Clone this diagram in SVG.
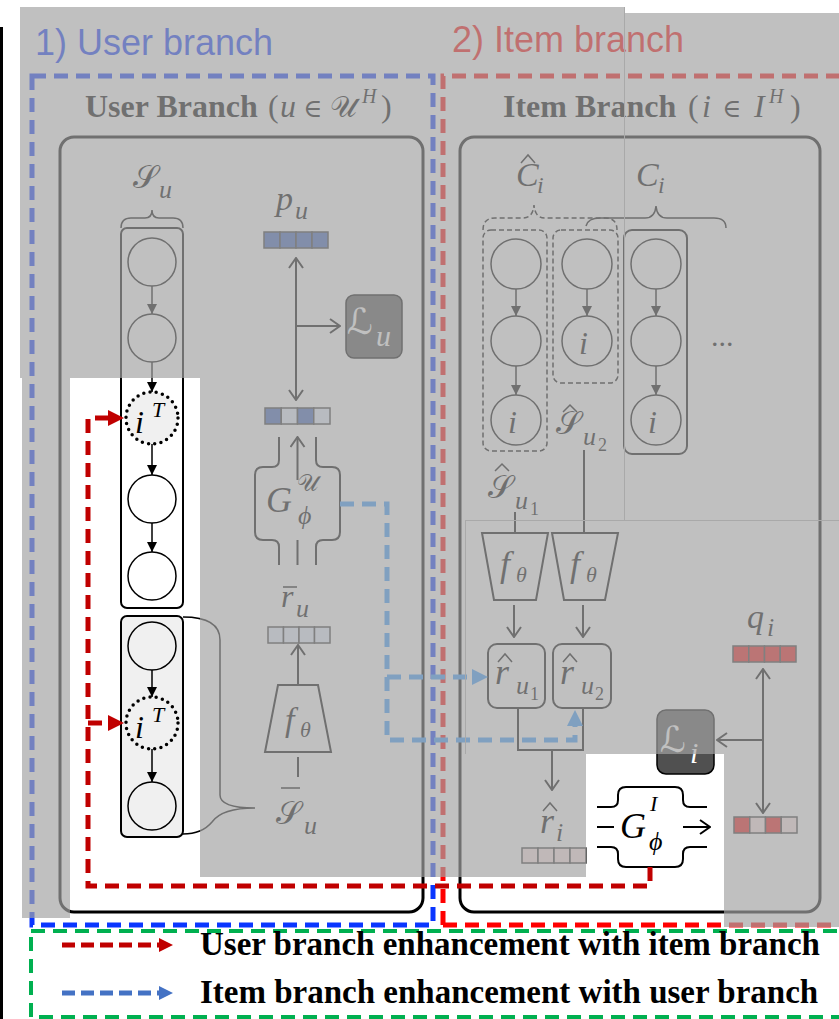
<svg xmlns="http://www.w3.org/2000/svg" width="839" height="1019" viewBox="0 0 839 1019">
<style>
.ln{stroke:#000;stroke-width:2;fill:none}
.th{stroke:#000;stroke-width:1.5;fill:none}
.m{font-family:"Liberation Serif","DejaVu Serif",serif;font-style:italic;fill:#000}
.s{font-family:"DejaVu Serif","DejaVu Sans","Noto Sans",serif;font-style:normal;fill:#000}
.n{font-family:"Liberation Serif",serif;fill:#000}
.cb{fill:#3960b9;stroke:#333;stroke-width:1.5}
.cl{fill:#e6eeff;stroke:#333;stroke-width:1.5}
.cr{fill:#f01010;stroke:#333;stroke-width:1.5}
.cp{fill:#ffe6e6;stroke:#333;stroke-width:1.5}
.circ{fill:#fff;stroke:#000;stroke-width:1.5}
.dot{fill:#f0f0f0;stroke:#000;stroke-width:3.5;stroke-dasharray:0 6.3;stroke-linecap:round}
.red{stroke:#c00000;stroke-width:5;fill:none;stroke-dasharray:14 8}
.blu{stroke:#3399ff;stroke-width:5;fill:none;stroke-dasharray:14 8}
</style>
<defs>
<marker id="tri" viewBox="0 0 10 10" refX="10" refY="5" markerWidth="11" markerHeight="10" markerUnits="userSpaceOnUse" orient="auto"><path d="M0,0 L10,5 L0,10 Z" fill="#000"/></marker>
<marker id="open" viewBox="0 0 12 16" refX="11" refY="8" markerWidth="12" markerHeight="16" markerUnits="userSpaceOnUse" orient="auto-start-reverse"><path d="M1,1 L11,8 L1,15" fill="none" stroke="#000" stroke-width="2"/></marker>
<marker id="rh" viewBox="0 0 16 16" refX="0" refY="8" markerWidth="16" markerHeight="16" markerUnits="userSpaceOnUse" orient="auto"><path d="M0,0 L16,8 L0,16 Z" fill="#c00000"/></marker>
<marker id="bh" viewBox="0 0 16 16" refX="0" refY="8" markerWidth="16" markerHeight="16" markerUnits="userSpaceOnUse" orient="auto"><path d="M0,0 L16,8 L0,16 Z" fill="#3399ff"/></marker>
<marker id="lbh" viewBox="0 0 16 16" refX="0" refY="8" markerWidth="14" markerHeight="16" markerUnits="userSpaceOnUse" orient="auto"><path d="M0,0 L16,8 L0,16 Z" fill="#4472c4"/></marker>
<marker id="lrh" viewBox="0 0 16 16" refX="0" refY="8" markerWidth="14" markerHeight="16" markerUnits="userSpaceOnUse" orient="auto"><path d="M0,0 L16,8 L0,16 Z" fill="#c00000"/></marker>
</defs>
<rect width="839" height="1019" fill="#fff"/>
<line x1="1.5" y1="27" x2="1.5" y2="1019" stroke="#000" stroke-width="3"/>

<g id="titles" font-family="'Liberation Sans',Arial,sans-serif" font-size="36">
<text x="35" y="55" fill="#0a36ff">1) User branch</text>
<text x="452" y="52" fill="#ff0000">2) Item branch</text>
</g>

<g id="frames">
<rect x="32" y="76" width="401" height="849" fill="none" stroke="#0a36ff" stroke-width="5" stroke-dasharray="14 8"/>
<path d="M443,925 V76 H845 M443,925 H845" fill="none" stroke="#ff0000" stroke-width="5" stroke-dasharray="14 8"/>
<rect x="31" y="931" width="815" height="86" fill="none" stroke="#00b050" stroke-width="4" stroke-dasharray="14 8"/>
</g>

<g id="user-branch">
<text y="117" font-family="'Liberation Serif',serif" font-size="32"><tspan x="85" font-weight="bold">User Branch</tspan><tspan x="268">(</tspan><tspan x="280" font-style="italic">u</tspan><tspan x="303" font-family="'DejaVu Serif',serif" font-size="26">∈</tspan><tspan x="330" font-family="'DejaVu Serif',serif" font-size="30">𝒰</tspan><tspan x="362" y="103" font-size="20" font-style="italic">H</tspan><tspan x="381" y="117">)</tspan></text>
<rect x="60" y="137" width="363" height="775" rx="14" fill="none" stroke="#000" stroke-width="3"/>
</g>

<g id="item-branch">
<text y="117" font-family="'Liberation Serif',serif" font-size="32"><tspan x="503" font-weight="bold">Item Branch</tspan><tspan x="688">(</tspan><tspan x="702" font-style="italic">i</tspan><tspan x="722" font-family="'DejaVu Serif',serif" font-size="26">∈</tspan><tspan x="754" font-style="italic">I</tspan><tspan x="769" y="103" font-size="20" font-style="italic">H</tspan><tspan x="790" y="117">)</tspan></text>
<rect x="460" y="137" width="360" height="775" rx="14" fill="none" stroke="#000" stroke-width="3"/>
</g>

<g id="user-seq">
<text class="s" x="133" y="188" font-size="32">𝒮</text><text class="m" x="159" y="198" font-size="26">u</text>
<path class="th" d="M121,228 Q121,218 131,218 L145,218 Q152,218 152,210 Q152,218 159,218 L173,218 Q183,218 183,228"/>
<rect x="121" y="228" width="62" height="380" rx="6" fill="#fff" stroke="#000" stroke-width="2"/>
<circle class="circ" cx="152" cy="262" r="24"/>
<circle class="circ" cx="152" cy="338" r="24"/>
<circle class="dot" cx="152" cy="418" r="26"/>
<circle class="circ" cx="152" cy="499" r="24"/>
<circle class="circ" cx="152" cy="576" r="24"/>
<rect x="121" y="616" width="62" height="221" rx="6" fill="#f0f0f0" stroke="#000" stroke-width="2"/>
<circle class="circ" cx="152" cy="646" r="24" style="fill:#f0f0f0"/>
<circle class="dot" cx="152" cy="723" r="26"/>
<circle class="circ" cx="152" cy="806" r="24" style="fill:#f0f0f0"/>
<text class="m" x="135" y="433" font-size="32" fill="#1c1c3a">i</text><text class="m" x="152" y="417" font-size="22">T</text>
<text class="m" x="135" y="738" font-size="32">i</text><text class="m" x="152" y="722" font-size="22">T</text>
<path class="th" d="M183,617 Q220,617 220,640 L220,795 Q220,808 255,808 Q222,808 212,822 Q202,834 183,834"/>
<text class="s" x="276" y="824" font-size="32">𝒮</text><line class="th" x1="281" y1="788" x2="300" y2="788"/><text class="m" x="304" y="834" font-size="26">u</text>
</g>

<g id="user-encoder">
<polygon class="ln" points="278,685 318,685 331,752 265,752"/>
<text class="m" x="285" y="731" font-size="34">f</text><text class="m" x="300" y="737" font-size="22">θ</text>
<rect class="cl" x="268" y="627" width="15.5" height="16"/><rect class="cl" x="283.5" y="627" width="15.5" height="16"/><rect class="cl" x="299" y="627" width="15.5" height="16"/><rect class="cl" x="314.5" y="627" width="15.5" height="16"/>
<text class="m" x="281" y="607" font-size="32">r</text><line class="th" x1="283" y1="587" x2="297" y2="587"/><text class="m" x="296" y="617" font-size="26">u</text>
</g>

<g id="user-generator">
<path class="ln" d="M279,437 V460 Q279,467 272,467 H263 Q255,467 255,475 V532 Q255,540 263,540 H272 Q279,540 279,547 V565"/>
<path class="ln" d="M316,437 V460 Q316,467 323,467 H332 Q340,467 340,475 V532 Q340,540 332,540 H323 Q316,540 316,547 V565"/>
<line class="ln" x1="297.5" y1="540" x2="297.5" y2="565"/>
<text class="m" x="266" y="512" font-size="36">G</text><text class="s" x="297" y="491" font-size="24">𝒰</text><text class="m" x="298" y="524" font-size="26">ϕ</text>
<rect class="cb" x="265" y="408" width="16.25" height="16"/><rect class="cl" x="281.25" y="408" width="16.25" height="16"/><rect class="cb" x="297.5" y="408" width="16.25" height="16"/><rect class="cl" x="313.75" y="408" width="16.25" height="16"/>
</g>

<g id="user-pref">
<rect class="cb" x="264" y="232" width="16" height="16"/><rect class="cb" x="280" y="232" width="16" height="16"/><rect class="cb" x="296" y="232" width="16" height="16"/><rect class="cb" x="312" y="232" width="16" height="16"/>
<text class="m" x="276" y="210" font-size="34">p</text><text class="m" x="295" y="219" font-size="26">u</text>
</g>

<g id="user-loss">
<rect x="346" y="295" width="56" height="63" rx="8" fill="#505050" stroke="#000" stroke-width="1.5"/>
<text x="347" y="334" font-family="'DejaVu Serif','DejaVu Sans',serif" font-size="36" fill="#fff">ℒ</text><text class="m" x="376" y="346" font-size="30" style="fill:#fff">u</text>
</g>

<g id="item-seq">
<text class="m" x="516" y="186" font-size="34">C</text><path class="th" d="M521,163 L528,155 L535,163"/><text class="m" x="537" y="193" font-size="24">i</text>
<text class="m" x="636" y="186" font-size="34">C</text><text class="m" x="658" y="193" font-size="24">i</text>
<path class="th" stroke-dasharray="5 3" d="M483,230 Q483,218 495,218 L523,218 Q533,218 534,205 Q535,218 545,218 L605,218 Q617,218 617,230"/>
<path class="th" d="M586,226 Q588,218 600,218 L645,218 Q655,218 656,206 Q657,218 667,218 L714,218 Q726,218 726,228"/>
<rect x="483" y="230" width="64" height="221" rx="8" fill="none" stroke="#000" stroke-width="1.5" stroke-dasharray="5 3"/>
<rect x="553" y="230" width="65" height="153" rx="8" fill="none" stroke="#000" stroke-width="1.5" stroke-dasharray="5 3"/>
<rect x="624" y="230" width="63" height="224" rx="8" fill="none" stroke="#000" stroke-width="2"/>
<circle class="circ" cx="516" cy="264" r="25"/><circle class="circ" cx="516" cy="341" r="25"/><circle class="circ" cx="516" cy="420" r="25"/>
<circle class="circ" cx="587" cy="264" r="25"/><circle class="circ" cx="587" cy="341" r="25"/>
<circle class="circ" cx="656" cy="264" r="25"/><circle class="circ" cx="656" cy="341" r="25"/><circle class="circ" cx="656" cy="420" r="25"/>
<text class="m" x="508" y="433" font-size="32">i</text>
<text class="m" x="579" y="354" font-size="32">i</text>
<text class="m" x="648" y="433" font-size="32">i</text>
<text x="711" y="346" font-family="'Liberation Serif',serif" font-size="30">...</text>
<text class="s" x="556" y="434" font-size="32">𝒮</text><path class="th" d="M563,412 L570,405 L577,412"/><text class="m" x="583" y="445" font-size="26">u</text><text class="n" x="598" y="451" font-size="18">2</text>
<text class="s" x="488" y="498" font-size="32">𝒮</text><path class="th" d="M495,471 L502,464 L509,471"/><text class="m" x="515" y="509" font-size="26">u</text><text class="n" x="530" y="515" font-size="18">1</text>
</g>

<g id="item-encoders">
<polygon class="ln" points="482,533 548,533 536,600 494,600"/>
<polygon class="ln" points="552,533 618,533 605,600 564,600"/>
<text class="m" x="500" y="576" font-size="36">f</text><text class="m" x="516" y="582" font-size="22">θ</text>
<text class="m" x="570" y="576" font-size="36">f</text><text class="m" x="586" y="582" font-size="22">θ</text>
<rect x="488" y="644" width="57" height="64" rx="9" fill="none" stroke="#000" stroke-width="2"/>
<rect x="553" y="644" width="58" height="64" rx="9" fill="none" stroke="#000" stroke-width="2"/>
<text class="m" x="495" y="684" font-size="36">r</text><path class="th" d="M498,662 L505,654 L512,662"/><text class="m" x="516" y="694" font-size="26">u</text><text class="n" x="530" y="700" font-size="18">1</text>
<text class="m" x="560" y="684" font-size="36">r</text><path class="th" d="M563,662 L570,654 L577,662"/><text class="m" x="581" y="694" font-size="26">u</text><text class="n" x="595" y="700" font-size="18">2</text>
<text class="m" x="540" y="833" font-size="36">r</text><path class="th" d="M543,811 L550,803 L557,811"/><text class="m" x="556" y="841" font-size="26">i</text>
<rect class="cp" x="522" y="848" width="16" height="15"/><rect class="cp" x="538" y="848" width="16" height="15"/><rect class="cp" x="554" y="848" width="16" height="15"/><rect class="cp" x="570" y="848" width="16" height="15"/>
</g>

<g id="item-generator">
<path class="ln" d="M597,807 H611 Q618,807 618,800 V795 Q618,787 626,787 H675 Q683,787 683,795 V800 Q683,807 690,807 H707"/>
<path class="ln" d="M597,847 H611 Q618,847 618,854 V859 Q618,867 626,867 H675 Q683,867 683,859 V854 Q683,847 690,847 H707"/>
<line class="ln" x1="597" y1="827" x2="614" y2="827"/>
<text class="m" x="620" y="838" font-size="36" fill="#101040">G</text><text class="m" x="650" y="811" font-size="22">I</text><text class="m" x="649" y="850" font-size="26">ϕ</text>
</g>

<g id="item-pref">
<text class="m" x="747" y="628" font-size="34">q</text><text class="m" x="767" y="636" font-size="26">i</text>
<rect class="cr" x="733" y="646" width="15.75" height="16"/><rect class="cr" x="748.75" y="646" width="15.75" height="16"/><rect class="cr" x="764.5" y="646" width="15.75" height="16"/><rect class="cr" x="780.25" y="646" width="15.75" height="16"/>
<rect class="cr" x="734" y="817" width="15.75" height="16"/><rect class="cp" x="749.75" y="817" width="15.75" height="16"/><rect class="cr" x="765.5" y="817" width="15.75" height="16"/><rect class="cp" x="781.25" y="817" width="15.75" height="16"/>
</g>

<g id="item-loss">
<rect x="657" y="710" width="57" height="64" rx="9" fill="#505050" stroke="#000" stroke-width="1.5"/>
<text x="660" y="752" font-family="'DejaVu Serif','DejaVu Sans',serif" font-size="36" fill="#fff">ℒ</text><text class="m" x="690" y="763" font-size="30" style="fill:#fff">i</text>
</g>

<g id="connectors">
<g class="th" marker-end="url(#tri)">
<line x1="152" y1="286" x2="152" y2="314"/><line x1="152" y1="362" x2="152" y2="392"/><line x1="152" y1="444" x2="152" y2="475"/><line x1="152" y1="523" x2="152" y2="552"/><line x1="152" y1="670" x2="152" y2="697"/><line x1="152" y1="749" x2="152" y2="782"/>
<line x1="516" y1="289" x2="516" y2="316"/><line x1="516" y1="366" x2="516" y2="395"/><line x1="587" y1="289" x2="587" y2="316"/><line x1="656" y1="289" x2="656" y2="316"/><line x1="656" y1="366" x2="656" y2="395"/>
</g>
<g class="ln">
<line x1="298" y1="757" x2="298" y2="777"/>
<line x1="298" y1="685" x2="298" y2="645" marker-end="url(#open)"/>
<line x1="297.5" y1="480" x2="297.5" y2="437" marker-end="url(#open)"/>
<line x1="296" y1="258" x2="296" y2="400" marker-start="url(#open)" marker-end="url(#open)"/>
<line x1="296" y1="326" x2="340" y2="326" marker-end="url(#open)"/>
<line x1="515" y1="512" x2="515" y2="533"/>
<line x1="584" y1="450" x2="584" y2="533"/>
<line x1="514" y1="605" x2="514" y2="637" marker-end="url(#open)"/>
<line x1="583" y1="605" x2="583" y2="637" marker-end="url(#open)"/>
<path d="M518,708 V750 H583 V708"/>
<line x1="552" y1="750" x2="552" y2="790" marker-end="url(#open)"/>
<line x1="763" y1="669" x2="763" y2="813" marker-start="url(#open)" marker-end="url(#open)"/>
<line x1="763" y1="740" x2="717" y2="740" marker-end="url(#open)"/>
<line x1="683" y1="827" x2="710" y2="827" marker-end="url(#open)"/>
</g>
<path class="blu" d="M340,504 H387 V740 H575 V726" marker-end="url(#bh)"/>
<path class="blu" d="M387,677 H472" marker-end="url(#bh)"/>
<path class="red" d="M650,867 V886 H88 V418 H108" marker-end="url(#rh)"/>
<path class="red" d="M88,723 H108" marker-end="url(#rh)"/>
</g>

<g id="legend">
<path d="M62,945 H159" stroke="#c00000" stroke-width="5" stroke-dasharray="13 6" fill="none" marker-end="url(#lrh)"/>
<path d="M62,993 H159" stroke="#4472c4" stroke-width="5" stroke-dasharray="13 6" fill="none" marker-end="url(#lbh)"/>
<text x="200" y="955" font-family="'Liberation Serif',serif" font-weight="bold" font-size="33">User branch enhancement with item branch</text>
<text x="200" y="1003" font-family="'Liberation Serif',serif" font-weight="bold" font-size="33">Item branch enhancement with user branch</text>
</g>

<g id="shade" fill="#a3a3a3" fill-opacity="0.686">
<rect x="20" y="7" width="605" height="371"/>
<rect x="625" y="13" width="214" height="507"/>
<rect x="22" y="378" width="48" height="540"/>
<rect x="200" y="378" width="425" height="142"/>
<rect x="200" y="520" width="639" height="234"/>
<rect x="200" y="754" width="386" height="123"/>
<rect x="724" y="754" width="115" height="173"/>
</g>
<g id="seams" stroke="#a9a9a9" stroke-width="1" fill="none">
<path d="M624.5,7 V520 M465,520.5 H839 M465.5,520 V754"/>
</g>
</svg>
